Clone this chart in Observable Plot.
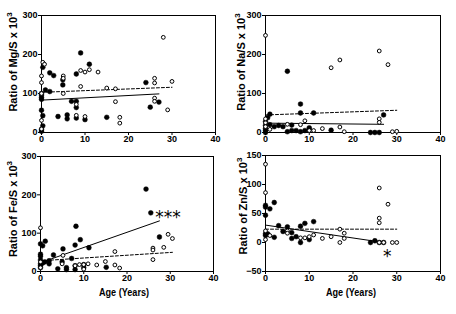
<!DOCTYPE html>
<html><head><meta charset="utf-8">
<script src="https://cdn.jsdelivr.net/npm/d3@7"></script>
<script src="https://cdn.jsdelivr.net/npm/@observablehq/plot@0.6"></script>
<style>
body{margin:0;background:#fff}
#c{position:relative;width:456px;height:314px;overflow:hidden;background:#fff}
#c svg{position:absolute;overflow:visible;background:transparent}
</style></head><body><div id="c"></div>
<script>
// Age (years) tick labels
const ageTicks = [0, 10, 20, 30, 40];
const ratioTicks = [0, 100, 200, 300];
const znTicks = [-50, 0, 50, 100, 150];

// [age, ratio] pairs; filled = solid dots, open = open circles
const mgFilled = [[0,100],[0,96],[0,90],[0,85],[0,57],[0.3,43],[0.3,17],[0,8],[0,3],[0.3,167],[0.9,109],[1.9,105],[1.9,153],[2.8,146],[4.9,135],[4.9,122],[8,150],[9,204],[11,175],[3.8,41],[5.9,45],[5.9,35],[6.9,80],[8,80],[8,64],[8,37],[10,33],[15,39],[24,128],[25,65],[27,78]];
const mgOpen = [[28,244],[0.3,180],[0.7,175],[0,145],[0,128],[9,159],[10,155],[11,161],[13,155],[5,145],[5,139],[9,118],[5,100],[15,114],[17,112],[26,139],[26,127],[30,131],[17,79],[26,88],[26,80],[29,58],[8,72],[8,44],[10,41],[18,39],[18,24],[0,31],[0,9],[0,100]];
const mgSolid = [[0,83],[27,99]];
const mgDashed = [[0,103],[30,116]];

const naFilled = [[5,157],[8,73],[8,50],[11,50],[1,47],[27,45],[0.5,38],[0,28],[0,18],[0,10],[0,5],[1,20],[2,15],[3,18],[4,15],[6,19],[5,2],[6,5],[7,5],[8,2],[9,5],[10,8],[10,12],[15,6],[24,0],[25,0],[26,0],[0,0]];
const naOpen = [[0,249],[15,166],[17,186],[26,209],[28,174],[26,35],[26,26],[9,30],[5,21],[8,20],[13,10],[17,14],[18,2],[29,2],[30,3],[10,5],[11,5],[0,25],[0,35],[0,15],[1,8]];
const naSolid = [[0,24],[27,21]];
const naDashed = [[0,45],[30,57]];

const feFilled = [[24.4,215],[25.5,153],[27.5,90],[8.2,118],[9.2,83],[8,69],[11.2,62],[5.2,59],[1.1,79],[0.5,67],[0,72],[3,43],[7.2,34],[0,45],[0,40],[0,30],[0,20],[0,15],[0,10],[2,28],[2,20],[5,25],[4,7],[6,10],[6,5],[8,5],[8,15],[10,10],[10,18],[15.2,11],[1,25],[0.5,22]];
const feOpen = [[0,114],[5.2,42],[17.2,52],[26,61],[26,56],[26,31],[28.5,63],[29.5,97],[30.5,86],[5,20],[9,18],[10,18],[11,20],[13,17],[15,26],[17.2,17],[18.3,9],[8,15],[0,25],[0,10],[10,6]];
const feSolid = [[0,23],[27.5,132]];
const feDashed = [[0,28],[30.5,50]];
const feStars = [[29.5,153,"***"]];

const znFilled = [[0,64],[0,61],[0,47],[1,58],[2,69],[11,36],[9,33],[8,28],[3,29],[5,27],[4,19],[6,17],[7,10],[6,7],[8,0],[10,5],[2,9],[0,15],[0,12],[0.5,15],[24,0],[25,3],[26,0],[27,0]];
const znOpen = [[0,135],[0,86],[26,94],[28,66],[26,42],[26,34],[17,23],[18,16],[18,7],[17,0],[15,10],[13,7],[11,13],[10,10],[9,8],[8,8],[5,20],[5,16],[26,0],[27,0],[29,0],[30,0],[0,20],[0,5],[1,12]];
const znSolid = [[0,30],[27,0]];
const znDashed = [[0,23],[30,23]];
const znStars = [[27.8,-16,"*"]];

const labels = ["Mg", "Na", "Fe", "Zn"];
const xTitle = "Age (Years)";

const FONT = "'Liberation Sans', Arial, Helvetica, sans-serif";
const root = document.getElementById("c");

function panel(o) {
  const ax = d => d[0], ay = d => d[1];
  const svg = Plot.plot({
    width: 228, height: o.height,
    marginLeft: o.ml, marginRight: o.mr, marginTop: o.mt, marginBottom: o.mb,
    style: {fontFamily: FONT, fontSize: "9px", fontWeight: "bold", background: "transparent", overflow: "visible", color: "#000"},
    x: {domain: [0, 40]},
    y: {domain: o.yDomain},
    marks: [
      Plot.axisX({ticks: ageTicks, tickSize: 3, tickPadding: 0, label: null, fontWeight: "bold"}),
      Plot.axisY({ticks: o.yTicks, tickSize: 3, tickPadding: 1, label: null, fontWeight: "bold"}),
      Plot.frame({stroke: "#000", strokeWidth: 1}),
      Plot.line(o.solid, {x: ax, y: ay, stroke: "#000", strokeWidth: 1}),
      Plot.line(o.dashed, {x: ax, y: ay, stroke: "#000", strokeWidth: 1, strokeDasharray: "3,2"}),
      Plot.dot(o.filled, {x: ax, y: ay, r: 2.4, fill: "#000", stroke: "#000", strokeWidth: 0.5}),
      Plot.dot(o.open, {x: ax, y: ay, r: 1.9, fill: "#fff", stroke: "#000", strokeWidth: 1}),
      o.stars ? Plot.text(o.stars, {x: ax, y: ay, text: d => d[2], fill: "#000", fontSize: 17, fontWeight: "normal", fontFamily: "DejaVu Sans", dy: 5}) : null
    ]
  });
  svg.style.left = o.left + "px";
  svg.style.top = o.top + "px";
  const s = d3.select(svg);
  const t = s.append("text")
    .attr("transform", `translate(${o.lx},${o.ly}) rotate(-90)`)
    .attr("text-anchor", "middle")
    .attr("dominant-baseline", "central")
    .attr("font-family", FONT).attr("font-weight", "bold").attr("font-size", "11px")
    .attr("fill", "#000");
  t.append("tspan").text(`Ratio of ${o.el}/S x 10`);
  t.append("tspan").attr("dy", "-0.45em").attr("font-size", "8px").text("3");
  if (o.xlabel) {
    s.append("text").attr("x", o.xx).attr("y", o.xy)
      .attr("text-anchor", "middle").attr("dominant-baseline", "central")
      .attr("font-family", FONT).attr("font-weight", "bold").attr("font-size", "11px")
      .attr("textLength", 50).attr("lengthAdjust", "spacingAndGlyphs")
      .attr("fill", "#000").text(xTitle);
  }
  root.appendChild(svg);
}

panel({el: labels[0], left: 0, top: 0, height: 150, ml: 41, mr: 13, mt: 15, mb: 18,
  yDomain: [0, 300], yTicks: ratioTicks, filled: mgFilled, open: mgOpen, solid: mgSolid, dashed: mgDashed, lx: 13, ly: 62});
panel({el: labels[1], left: 228, top: 0, height: 150, ml: 37, mr: 16, mt: 15, mb: 18,
  yDomain: [0, 300], yTicks: ratioTicks, filled: naFilled, open: naOpen, solid: naSolid, dashed: naDashed, lx: 13, ly: 62});
panel({el: labels[2], left: 0, top: 145, height: 169, ml: 40, mr: 15, mt: 11, mb: 43,
  yDomain: [0, 300], yTicks: ratioTicks, filled: feFilled, open: feOpen, solid: feSolid, dashed: feDashed, stars: feStars, lx: 13, ly: 64, xlabel: true, xx: 124, xy: 147});
panel({el: labels[3], left: 228, top: 145, height: 169, ml: 37, mr: 16, mt: 10, mb: 43,
  yDomain: [-50, 150], yTicks: znTicks, filled: znFilled, open: znOpen, solid: znSolid, dashed: znDashed, stars: znStars, lx: 15, ly: 61, xlabel: true, xx: 123, xy: 147});
</script></body></html>
